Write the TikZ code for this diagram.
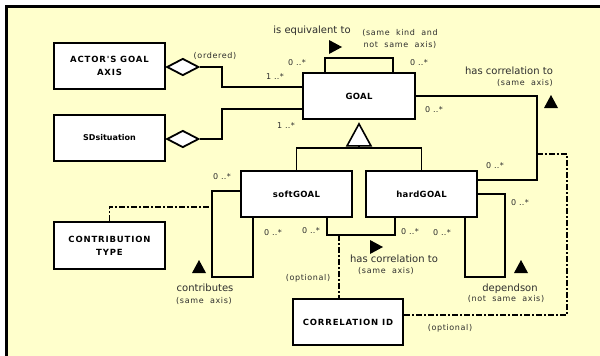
\documentclass[tikz,border=0pt]{standalone}
\usepackage{fontspec}
\setmainfont{DejaVu Sans}
\newfontfamily\lblfont{DejaVu Sans}
\newfontfamily\smfont[LetterSpace=8,WordSpace=2]{DejaVu Sans}
\newfontfamily\multfont[LetterSpace=4,WordSpace=2]{DejaVu Sans}
\newfontfamily\boxfont[LetterSpace=4]{DejaVu Sans}
\newfontfamily\capfont[LetterSpace=10]{DejaVu Sans}
\usetikzlibrary{shapes.geometric,calc}
\definecolor{paper}{RGB}{255,255,204}
\definecolor{ink}{RGB}{45,45,45}
\tikzset{
  box/.style={draw, fill=white, line width=1.8pt, inner sep=0pt, align=center,
    font=\boxfont\bfseries\fontsize{8.5}{13}\selectfont},
  capbox/.style={box, font=\capfont\bfseries\fontsize{8.5}{13}\selectfont},
  diam/.style={diamond, draw, fill=white, line width=1.8pt, inner sep=0pt,
    minimum width=32pt, minimum height=17pt},
  lbl/.style={font=\lblfont\fontsize{10}{11}\selectfont, text=ink, inner sep=0pt},
  sm/.style={font=\smfont\fontsize{8}{12}\selectfont, text=ink, inner sep=0pt, align=center},
  mult/.style={font=\multfont\fontsize{8}{12}\selectfont, text=ink, inner sep=0pt},
  dashdot/.style={line width=1.5pt, dash pattern=on 6pt off 2pt on 2pt off 2pt},
  rtri/.pic={\fill[black] (-6,-7) -- (7,0) -- (-6,7) -- cycle;},
  utri/.pic={\fill[black] (-7,6) -- (0,-7) -- (7,6) -- cycle;},
}
\begin{document}
\begin{tikzpicture}[x=1pt, y=-1pt, line width=1.8pt, line join=miter]
\useasboundingbox (0,0) rectangle (600,356);
% sheet
\fill[paper] (6.5,6.5) rectangle (600,356);
\draw[line width=3pt] (6.5,358) -- (6.5,6.5) -- (601,6.5);

% classes
\node[capbox, minimum width=111pt, minimum height=46pt] (actor) at (109.5,66) {ACTOR'S GOAL\\AXIS};
\node[box, minimum width=111pt, minimum height=46pt, font=\bfseries\fontsize{8}{13}\selectfont] (sd) at (109.5,138) {SDsituation};
\node[box, minimum width=112pt, minimum height=46pt] (goal) at (359,96) {GOAL};
\node[box, minimum width=111pt, minimum height=46pt] (soft) at (296.5,194) {softGOAL};
\node[box, minimum width=111pt, minimum height=46pt] (hard) at (421.5,194) {hardGOAL};
\node[capbox, minimum width=111pt, minimum height=47pt] (contrib) at (109.5,245.5) {CONTRIBUTION\\TYPE};
\node[capbox, minimum width=110pt, minimum height=46pt] (corr) at (348,322) {CORRELATION ID};

% aggregation diamonds
\node[diam, anchor=west] (dA) at ([yshift=-1pt]actor.east) {};
\node[diam, anchor=west] (dS) at ([yshift=-1pt]sd.east) {};

% aggregations into GOAL
\draw (dA.east) -- ++(22,0) |- ([yshift=9pt]goal.west);
\draw (dS.east) -- ++(22,0) |- ([yshift=-13pt]goal.west);

% is equivalent to (self association)
\draw ([xshift=-34pt]goal.north) -- ++(0,-14) -| ([xshift=34pt]goal.north);

% GOAL -- hardGOAL correlation
\draw (goal.east) -- ++(121,0) coordinate (gcorner) |- ([yshift=14pt]hard.east);

% generalization
\coordinate (genbase) at ($(goal.south)+(0,26)$);
\draw[line width=1.6pt, fill=white] ([yshift=-4pt]goal.south) -- ++(-12,22) -- ++(24,0) -- cycle;
\draw (genbase) -- ++(0,3);
\draw (soft.north) -- ++(0,-22) -| (hard.north);

% contributes (softGOAL self association)
\draw ([yshift=3pt]soft.west) -- ++(-28,0) coordinate (sl) -- ++(0,86) -| ([xshift=-43.5pt]soft.south);
\draw[dashdot] (contrib.north) |- ($(sl)+(0,16)$);

% has correlation to (softGOAL -- hardGOAL)
\draw ([xshift=30.5pt]soft.south) -- ++(0,17) coordinate (cl) -| ([xshift=-26.5pt]hard.south);
\coordinate (cj) at ($(cl)+(12,0)$);
\draw[dashdot] (cj) -- (cj |- corr.north);

% dependson (hardGOAL self association)
\draw (hard.east) -- ++(27,0) -- ++(0,83) -| ([xshift=43.5pt]hard.south);

% association class link to CORRELATION ID
\draw[dashdot] ($(gcorner)+(0,58)$) -- ++(30,0) |- ([yshift=7pt]corr.east);

% direction markers
\pic at (335,47) {rtri};
\pic at (551,102) {utri};
\pic at (376,247) {rtri};
\pic at (521,267) {utri};
\pic at (199,267) {utri};

% role names and labels
\node[lbl] (l1) at (312,31) {is equivalent to};
\node[sm] (l2) at (400,39) {(same kind and\\not same axis)};
\node[mult] (m1) at (297,63) {0 ..*};
\node[mult] (m2) at (419,63) {0 ..*};
\node[sm] (l3) at (215,56) {(ordered)};
\node[mult] (m3) at (275,77) {1 ..*};
\node[mult] (m4) at (286,126) {1 ..*};
\node[mult] (m5) at (434,110) {0 ..*};
\node[lbl] (l4) at (509,71) {has correlation to};
\node[sm] (l5) at (525,83) {(same axis)};
\node[mult] (m6) at (495,166) {0 ..*};
\node[mult] (m7) at (222,177) {0 ..*};
\node[mult] (m8) at (273,233) {0 ..*};
\node[mult] (m9) at (311,231) {0 ..*};
\node[mult] (m10) at (410,232) {0 ..*};
\node[mult] (m11) at (442,233) {0 ..*};
\node[mult] (m12) at (520,203) {0 ..*};
\node[lbl] (l6) at (394,259) {has correlation to};
\node[sm] (l7) at (386,271) {(same axis)};
\node[sm] (l8) at (308,278) {(optional)};
\node[lbl] (l9) at (205,288) {contributes};
\node[sm] (l10) at (204,301) {(same axis)};
\node[lbl] (l11) at (510,289) {dependson};
\node[sm] (l12) at (506,299) {(not same axis)};
\node[sm] (l13) at (450,328) {(optional)};
\end{tikzpicture}
\end{document}
